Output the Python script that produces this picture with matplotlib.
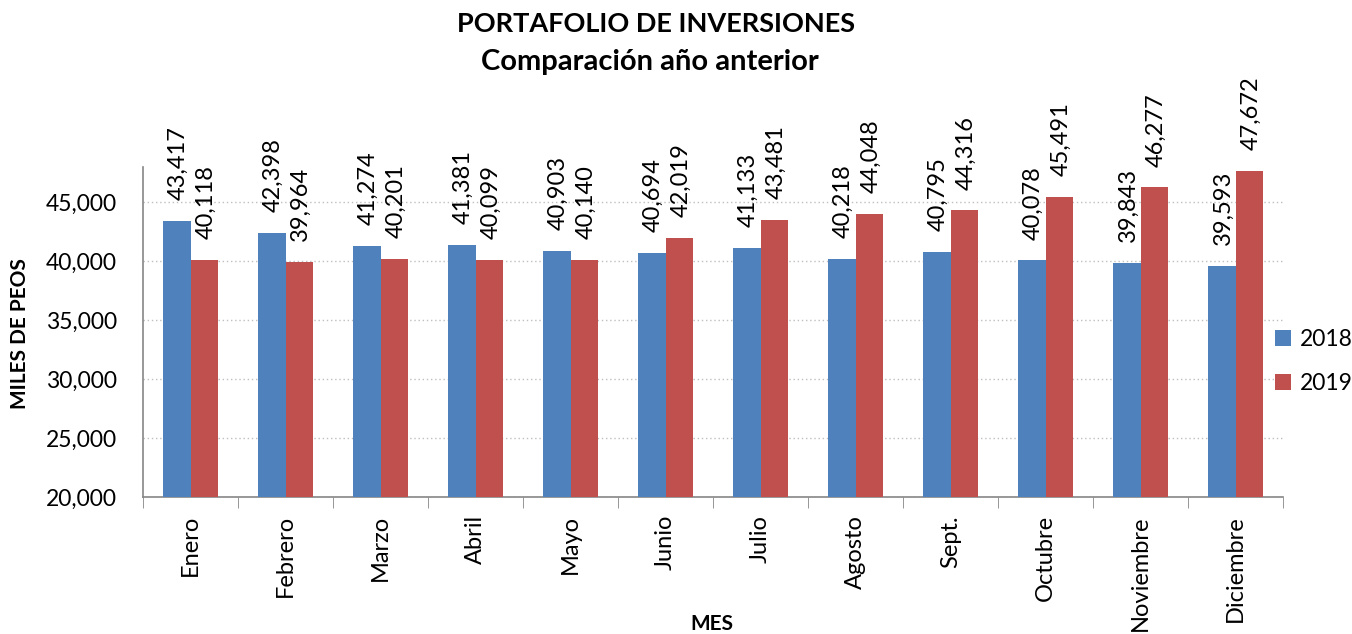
import numpy as np
import matplotlib.pyplot as plt
from matplotlib.ticker import FuncFormatter

plt.rcParams['font.family'] = ['Lato', 'DejaVu Sans']

meses = ["Enero", "Febrero", "Marzo", "Abril", "Mayo", "Junio", "Julio",
         "Agosto", "Sept.", "Octubre", "Noviembre", "Diciembre"]
v2018 = [43417, 42398, 41274, 41381, 40903, 40694, 41133, 40218, 40795, 40078, 39843, 39593]
v2019 = [40118, 39964, 40201, 40099, 40140, 42019, 43481, 44048, 44316, 45491, 46277, 47672]

azul = "#4F81BD"
rojo = "#C0504D"

fig = plt.figure(figsize=(13.52, 6.34), dpi=100)
ax = fig.add_axes([0.1058, 0.216, 0.8432, 0.5205])

x = np.arange(len(meses))
w = 0.29
b1 = ax.bar(x - w / 2, v2018, w, color=azul, label="2018", zorder=3)
b2 = ax.bar(x + w / 2, v2019, w, color=rojo, label="2019", zorder=3)

# etiquetas de datos verticales
for barras in (b1, b2):
    for r in barras:
        h = r.get_height()
        ax.annotate(f"{h:,.0f}", (r.get_x() + r.get_width() / 2, h),
                    xytext=(1, 15), textcoords="offset points",
                    rotation=90, ha="center", va="bottom",
                    fontsize=17, clip_on=False)

ax.set_ylim(20000, 48000)
ax.set_xlim(-0.5, len(meses) - 0.5)
ax.set_yticks(range(20000, 45001, 5000))
ax.yaxis.set_major_formatter(FuncFormatter(lambda v, p: f"{v:,.0f}"))
ax.tick_params(axis="y", length=0, labelsize=16.5, pad=19)

ax.set_xticks(x)
ax.set_xticklabels(meses, rotation=90, fontsize=17)
ax.set_xticks(np.arange(-0.5, len(meses)), minor=True)
ax.tick_params(axis="x", which="major", length=0, pad=13)
ax.tick_params(axis="x", which="minor", length=8, color="#868686", direction="out")

ax.grid(axis="y", linestyle=(0, (1, 2)), color="#BFBFBF", linewidth=1, zorder=0)

for s in ["top", "right"]:
    ax.spines[s].set_visible(False)
for s in ["left", "bottom"]:
    ax.spines[s].set_color("#868686")
    ax.spines[s].set_linewidth(1.2)

ax.set_ylabel("MILES DE PEOS", fontsize=15, fontweight="bold")
ax.yaxis.set_label_coords(-0.099, 0.494)
ax.set_xlabel("MES", fontsize=15, fontweight="bold")
ax.xaxis.set_label_coords(0.499, -0.355)

fig.text(0.485, 0.962, "PORTAFOLIO DE INVERSIONES", ha="center", va="center",
         fontsize=19.5, fontweight="bold")
fig.text(0.481, 0.902, "Comparación año anterior", ha="center", va="center",
         fontsize=21, fontweight="bold")

ax.legend(loc="center left", bbox_to_anchor=(0.985, 0.41), frameon=False,
          fontsize=16.5, handlelength=0.7, handleheight=0.7, handletextpad=0.4,
          labelspacing=1.0, borderaxespad=0)

fig.savefig("out.png", dpi=100)
